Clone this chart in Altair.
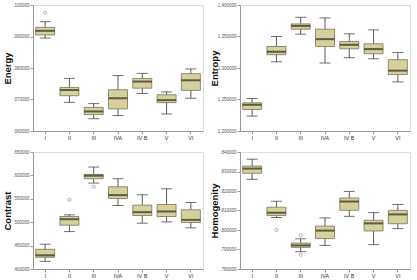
import altair as alt
import pandas as pd

groups = ["I", "II", "III", "IVA", "IV B", "V", "VI"]

# Energy box stats
energy_low = [0.0895, 0.0691, 0.0639, 0.0649, 0.0719, 0.0654, 0.0704]
energy_q1 = [0.0905, 0.0712, 0.0652, 0.0670, 0.0736, 0.0690, 0.0729]
energy_med = [0.0918, 0.0730, 0.0662, 0.0704, 0.0757, 0.0698, 0.0761]
energy_q3 = [0.0929, 0.0738, 0.0675, 0.0731, 0.0767, 0.0715, 0.0782]
energy_high = [0.0947, 0.0767, 0.0687, 0.0776, 0.0783, 0.0724, 0.0797]
energy_out_grp = ["I"]
energy_out_val = [0.0976]

# Entropy box stats
entropy_low = [1.2237, 1.3100, 1.3537, 1.3079, 1.3163, 1.3147, 1.2779]
entropy_q1 = [1.2342, 1.3211, 1.3616, 1.3342, 1.3305, 1.3226, 1.2895]
entropy_med = [1.2416, 1.3258, 1.3668, 1.3458, 1.3368, 1.3300, 1.2958]
entropy_q3 = [1.2447, 1.3342, 1.3700, 1.3616, 1.3421, 1.3384, 1.3132]
entropy_high = [1.2516, 1.3500, 1.3805, 1.3795, 1.3542, 1.3605, 1.3247]
entropy_out_grp = []
entropy_out_val = []

# Contrast box stats
contrast_low = [0.4164, 0.4800, 0.5836, 0.5357, 0.4979, 0.5007, 0.4879]
contrast_q1 = [0.4250, 0.4936, 0.5929, 0.5507, 0.5143, 0.5121, 0.4993]
contrast_med = [0.4293, 0.5064, 0.5993, 0.5579, 0.5214, 0.5229, 0.5050]
contrast_q3 = [0.4421, 0.5121, 0.6021, 0.5757, 0.5364, 0.5379, 0.5264]
contrast_high = [0.4529, 0.5157, 0.6179, 0.5929, 0.5586, 0.5714, 0.5421]
contrast_out_grp = ["II", "III"]
contrast_out_val = [0.5479, 0.5757]

# Homogeneity box stats
homog_low = [0.8260, 0.8064, 0.7889, 0.7921, 0.8070, 0.7925, 0.8007]
homog_q1 = [0.8291, 0.8074, 0.7911, 0.7956, 0.8101, 0.7995, 0.8032]
homog_med = [0.8315, 0.8089, 0.7921, 0.7997, 0.8146, 0.8034, 0.8080]
homog_q3 = [0.8328, 0.8117, 0.7933, 0.8020, 0.8164, 0.8050, 0.8101]
homog_high = [0.8363, 0.8147, 0.7955, 0.8062, 0.8198, 0.8089, 0.8131]
homog_out_grp = ["II", "III", "III"]
homog_out_val = [0.8000, 0.7973, 0.7873]

BOX_FILL = "#d6d19c"
BOX_STROKE = "#77745a"
MEDIAN = "#2b2a1c"
FONT = "Liberation Sans"


def panel(title, low, q1, med, q3, high, og, ov, domain, ticks, fmt, h):
    df = pd.DataFrame({"g": groups, "low": low, "q1": q1, "med": med, "q3": q3, "high": high})
    x = alt.X("g:N", sort=groups, title=None,
              scale=alt.Scale(paddingInner=0, paddingOuter=0),
              axis=alt.Axis(labelAngle=0, labelFontSize=5.5, labelColor="#333333",
                            tickSize=3, labelPadding=1, domainColor="#999999", tickColor="#999999",
                            maxExtent=10, minExtent=10))
    yscale = alt.Scale(domain=domain, nice=False, zero=False)
    yaxis = alt.Axis(values=ticks, labelExpr=fmt, labelFontSize=4.5, labelColor="#555555",
                     tickSize=3, labelPadding=1, grid=False, title=title, titleFontSize=9.5,
                     titleFontWeight="bold", titleColor="#111111", titlePadding=2,
                     labelOverlap=False, labelFlush=False,
                     minExtent=19, maxExtent=19, domainColor="#999999", tickColor="#999999")

    def Y(field):
        return alt.Y(field, type="quantitative", scale=yscale, axis=yaxis)

    base = alt.Chart(df)
    whisk = base.mark_rule(color="#333333", strokeWidth=0.8).encode(x=x, y=Y("low"), y2="high:Q")
    box = base.mark_bar(size=19, color=BOX_FILL, stroke=BOX_STROKE, strokeWidth=0.8).encode(
        x=x, y=Y("q1"), y2="q3:Q")
    capl = base.mark_tick(size=11, thickness=1, color="#333333", orient="horizontal").encode(x=x, y=Y("low"))
    caph = base.mark_tick(size=11, thickness=1, color="#333333", orient="horizontal").encode(x=x, y=Y("high"))
    medt = base.mark_tick(size=19, thickness=2, color=MEDIAN, orient="horizontal").encode(x=x, y=Y("med"))
    layers = [whisk, box, capl, caph, medt]
    if og:
        odf = pd.DataFrame({"g": og, "v": ov})
        pts = alt.Chart(odf).mark_point(shape="circle", size=10, filled=False, color="#666666",
                                        strokeWidth=0.7).encode(x=x, y=Y("v"))
        layers.append(pts)
    return alt.layer(*layers).properties(width=170, height=h)


fmt_dot = "replace(format(datum.value, '.6f'), /^0/, '')"
fmt_one = "format(datum.value, '.6f')"

p1 = panel("Energy", energy_low, energy_q1, energy_med, energy_q3, energy_high,
           energy_out_grp, energy_out_val, [0.06, 0.10], [0.06, 0.07, 0.08, 0.09, 0.10], fmt_dot, 126)
p2 = panel("Entropy", entropy_low, entropy_q1, entropy_med, entropy_q3, entropy_high,
           entropy_out_grp, entropy_out_val, [1.2, 1.4], [1.2, 1.25, 1.3, 1.35, 1.4], fmt_one, 126)
p3 = panel("Contrast", contrast_low, contrast_q1, contrast_med, contrast_q3, contrast_high,
           contrast_out_grp, contrast_out_val, [0.4, 0.65], [0.4, 0.45, 0.5, 0.55, 0.6, 0.65], fmt_dot, 117)
p4 = panel("Homogenity", homog_low, homog_q1, homog_med, homog_q3, homog_high,
           homog_out_grp, homog_out_val, [0.78, 0.84], [0.78, 0.79, 0.80, 0.81, 0.82, 0.83, 0.84], fmt_dot, 117)

top = alt.hconcat(p1, p2, spacing=4)
bottom = alt.hconcat(p3, p4, spacing=4)
chart = alt.vconcat(top, bottom, spacing=6).properties(
    padding={"left": 1, "top": 1, "right": 4, "bottom": 1},
    background="white",
).configure_view(fill="#ebebeb", stroke="#9a9a9a", strokeWidth=1).configure(
    font=FONT
)

chart.save("out.html", embed_options={"renderer": "svg", "actions": False})
